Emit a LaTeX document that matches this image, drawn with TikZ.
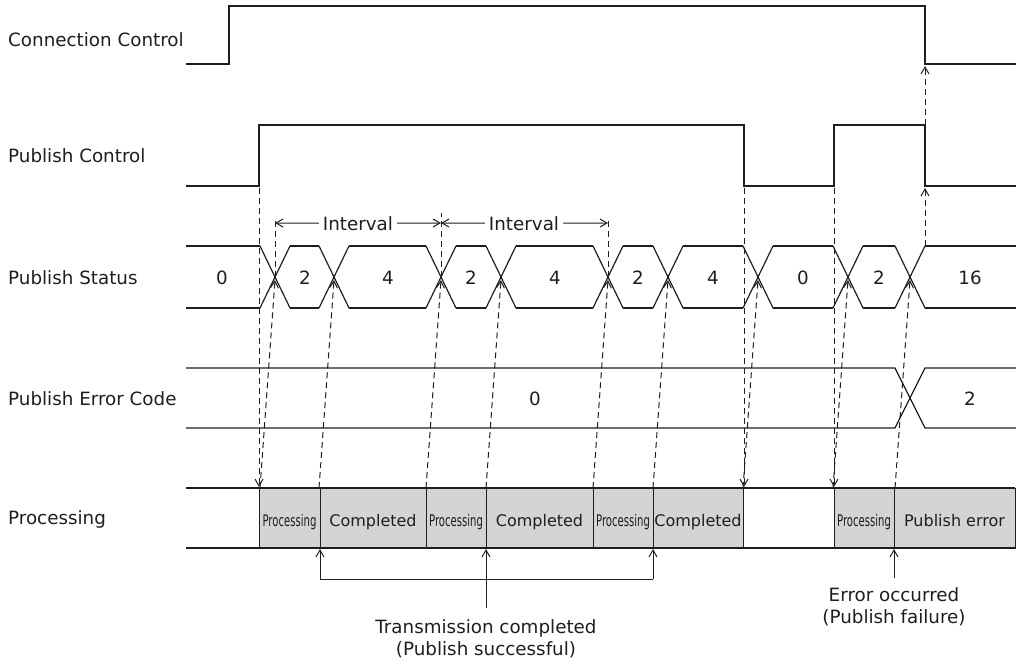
\documentclass[tikz,border=0pt]{standalone}
\usepackage{fontspec}
\setmainfont{DejaVu Sans}
\usetikzlibrary{arrows.meta}
\definecolor{procgray}{RGB}{212,212,212}
\definecolor{ink}{RGB}{30,30,30}
\newcommand{\lblfont}{\fontsize{18.3}{22}\selectfont}
\newcommand{\boxfont}{\fontsize{16}{19}\selectfont}
\newcommand{\narrow}[1]{\scalebox{0.63}[1]{#1}}
\tikzset{
  sig/.style={line width=1.8pt, ink},
  bus/.style={line width=1.2pt, ink},
  guide/.style={line width=1pt, ink, dash pattern=on 6pt off 4pt},
  barb/.style={-{Straight Barb[length=7pt,width=8pt,line width=1pt]}},
  bracket/.style={line width=1pt, ink},
}
\begin{document}
\begin{tikzpicture}[x=1pt, y=-1pt, every node/.style={inner sep=0pt, text=ink}]
  \useasboundingbox (0,0) rectangle (1016,664);
  % row labels
  \foreach \name/\y/\txt in {cc/46/Connection Control, pc/162/Publish Control, ps/284/Publish Status, pe/405/Publish Error Code, pr/524/Processing}
    \node[anchor=base west, font=\lblfont] (lbl-\name) at (8,\y) {\txt};

  % connection control and publish control
  \draw[sig] (186,64) -- (229,64) -- (229,6) -- (925,6) -- (925,64) -- (1016,64);
  \draw[sig] (186,186) -- (259,186) -- (259,125) -- (744,125) -- (744,186) -- (834,186) -- (834,125) -- (925,125) -- (925,186) -- (1016,186);

  % publish status
  \foreach \c in {275,334,441,501,608,668,758,848,910}
    \draw[bus] (\c-15,246) -- (\c+15,308) (\c-15,308) -- (\c+15,246);
  \foreach \p/\n in {171/275,275/334,334/441,441/501,501/608,608/668,668/758,758/848,848/910,910/1031}
    \draw[bus] (\p+15,246) -- (\n-15,246) (\p+15,308) -- (\n-15,308);
  \foreach \x/\v in {222/0, 305/2, 388/4, 471/2, 555/4, 638/2, 713/4, 803/0, 879/2, 970/16}
    \node[anchor=base, font=\lblfont] (ps\x) at (\x,284) {\v};

  % publish error code
  \draw[bus] (186,368) -- (895,368) -- (925,428) -- (1016,428);
  \draw[bus] (186,428) -- (895,428) -- (925,368) -- (1016,368);
  \node[anchor=base, font=\lblfont] (pe0) at (535,405) {0};
  \node[anchor=base, font=\lblfont] (pe2) at (970,405) {2};

  % processing
  \draw[bus] (186,488) -- (259,488) (186,548) -- (259,548);
  \draw[bus] (743,488) -- (834,488) (743,548) -- (834,548);
  \foreach \a/\b/\t in {259/320/\narrow{Processing}, 320/426/Completed, 426/486/\narrow{Processing}, 486/593/Completed, 593/653/\narrow{Processing}, 653/743/Completed, 834/894/\narrow{Processing}, 894/1015/Publish error}
  {
    \filldraw[fill=procgray, draw=ink, line width=1pt] (\a,488) rectangle (\b,548);
    \node[anchor=base, font=\boxfont] (pr\a) at ({(\a+\b)/2},526) {\t};
  }
  \draw[bus] (259,488) -- (743,488) (834,488) -- (1015,488);
  \draw[bus] (259,548) -- (743,548) (834,548) -- (1015,548);

  % dashed guides
  \foreach \x in {259,744,834}
    \draw[guide,barb] (\x,188) -- (\x,487);
  \foreach \c in {275,334,441,501,608,668,758,848,910}
    \draw[guide,barb] (\c-15,488) -- (\c,280);
  \draw[guide,barb] (925,246) -- (925,188);
  \draw[guide,barb] (925,125) -- (925,66);
  \foreach \x/\t in {275/221, 441/213, 608/219}
    \draw[guide] (\x,277) -- (\x,\t);

  % intervals
  \coordinate (m1) at (275,223);
  \coordinate (m2) at (441,223);
  \coordinate (m3) at (608,223);
  \node[anchor=base, font=\lblfont, inner xsep=4pt] (int1) at (358,230) {Interval};
  \node[anchor=base, font=\lblfont, inner xsep=4pt] (int2) at (524,230) {Interval};
  \draw[bracket,barb] (int1.west) -- (m1);
  \draw[bracket,barb] (int1.east) -- (m2);
  \draw[bracket,barb] (int2.west) -- (m2);
  \draw[bracket,barb] (int2.east) -- (m3);

  % results
  \node[anchor=north, font=\lblfont, align=center, outer ysep=12pt] (txok) at (486,608) {Transmission completed\\(Publish successful)};
  \node[anchor=north, font=\lblfont, align=center, outer ysep=10pt] (txerr) at (894,578) {Error occurred\\(Publish failure)};
  \coordinate (ok1) at (320,549);
  \coordinate (ok2) at (486,549);
  \coordinate (ok3) at (653,549);
  \coordinate (err) at (894,549);
  \draw[bracket] (320,579) -- (653,579);
  \draw[bracket,barb] (320,579) -- (ok1);
  \draw[bracket,barb] (653,579) -- (ok3);
  \draw[bracket,barb] (txok.north) -- (ok2);
  \draw[bracket,barb] (txerr.north) -- (err);
\end{tikzpicture}
\end{document}
